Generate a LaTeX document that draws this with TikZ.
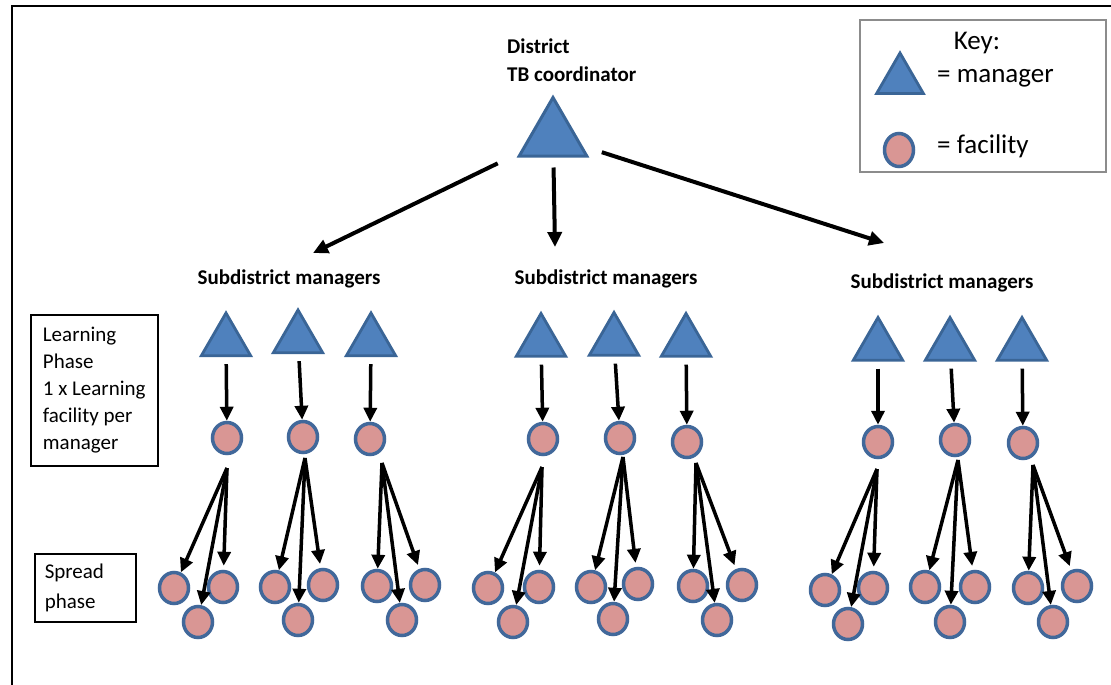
\documentclass[tikz,border=0pt]{standalone}
\usepackage{fontspec}
\setmainfont{Carlito}
\usetikzlibrary{shapes.geometric,arrows.meta}
\definecolor{mgrfill}{HTML}{4F81BD}
\definecolor{mgrline}{HTML}{3A6596}
\definecolor{facfill}{HTML}{D99694}
\definecolor{facline}{HTML}{41689A}
\definecolor{keyline}{HTML}{8C8C8C}

\begin{document}
\begin{tikzpicture}[x=1pt,y=-1pt,
  mgr/.style={regular polygon, regular polygon sides=3, minimum size=57pt,
    inner sep=0pt, fill=mgrfill, draw=mgrline, line width=2.8pt},
  fac/.style={ellipse, minimum width=29pt, minimum height=31pt, inner sep=0pt,
    fill=facfill, draw=facline, line width=3.5pt},
  arr/.style={-{Triangle[length=14pt,width=13pt]}, line width=3.5pt},
  toparr/.style={-{Triangle[length=15pt,width=14pt]}, line width=4pt},
  bold/.style={font=\fontsize{21}{28}\selectfont\bfseries, inner sep=0pt},
  keytext/.style={font=\fontsize{27}{30}\selectfont, inner sep=0pt},
  phasebox/.style={draw=black, line width=1.5pt, align=left, inner xsep=10pt,
    inner ysep=0pt, anchor=north west}]

\useasboundingbox (0,0) rectangle (1111,685);

% page frame
\draw[line width=1.5pt] (12,685) -- (12,6) -- (1111,6);

% district coordinator
\node[bold, anchor=west, align=left] (dtc) at (507,60) {District\\TB coordinator};
\node[mgr, minimum size=78pt, line width=3pt] (top) at (553,136.5) {};

% subdistrict headings and the arrows pointing to them
\node[bold] (sd1) at (289,279) {Subdistrict managers};
\node[bold] (sd2) at (606,279) {Subdistrict managers};
\node[bold] (sd3) at (942,283) {Subdistrict managers};
\coordinate (tipL) at (313,253);
\coordinate (tipM) at (555,247);
\coordinate (tipR) at (884,243);
\draw[toparr, shorten <=24pt] (top) -- (tipL);
\draw[toparr, shorten <=10pt] (top) -- (tipM);
\draw[toparr, shorten <=20pt] (top) -- (tipR);

% managers, learning facilities and spread facilities
\foreach \n/\tx/\ty/\cx/\cy/\sx/\sy/\lx/\ly/\rx/\ry/\bx/\by in {
  a/226/341.5/227/438/227/468/174/588/223/587/198/622,
  b/298/338.5/303/437/305/458/275/587/323/585/298/620,
  c/371/341.5/370/439/382/463/377/586/425/585/402/620,
  d/541/342/543/439/542/467/488/588/539/587/513/622,
  e/614/341/620/438/623/457/591/587/638/584/613/619,
  f/686/342/687/442/696/463/693/586/742/585/717/620,
  g/878/346/878/442/877/469/825/590/873/588/848/624,
  h/950/346/955/440/958/460/925/587/975/587/950/622,
  i/1022/346/1023/443/1033/465/1028/588/1077/586/1053/622}{
  \node[mgr] (T\n) at (\tx,\ty) {};
  \node[fac] (C\n) at (\cx,\cy) {};
  \draw[arr, shorten <=7pt] (T\n) -- (C\n);
  \coordinate (S\n) at (\sx,\sy);
  \node[fac] (L\n) at (\lx,\ly) {};
  \node[fac] (R\n) at (\rx,\ry) {};
  \node[fac] (B\n) at (\bx,\by) {};
  \draw[arr] (S\n) -- (L\n);
  \draw[arr] (S\n) -- (B\n);
  \draw[arr, shorten >=4pt] (S\n) -- (R\n);
}

% phase labels
\node[phasebox, font=\fontsize{21}{27}\selectfont, minimum width=127pt,
  minimum height=151pt] (learn) at (30,314)
  {Learning\\Phase\\1 x Learning\\facility per\\manager};
\node[phasebox, font=\fontsize{21}{30}\selectfont, minimum width=101pt,
  minimum height=68pt, text width=81pt] (spread) at (34,553)
  {Spread\\phase};

% key
\node[draw=keyline, line width=2pt, minimum width=246pt, minimum height=152pt,
  inner sep=0pt] (key) at (983,96) {};
\node[keytext] (keyttl) at (977,43) {Key:};
\node[mgr, minimum size=54pt] (keymgr) at (900,80) {};
\node[keytext, anchor=west] (keymgrtxt) at (937,78) {= manager};
\node[fac, minimum width=29pt, minimum height=33pt] (keyfac) at (899,150) {};
\node[keytext, anchor=west] (keyfactxt) at (937,146) {= facility};
\end{tikzpicture}
\end{document}
